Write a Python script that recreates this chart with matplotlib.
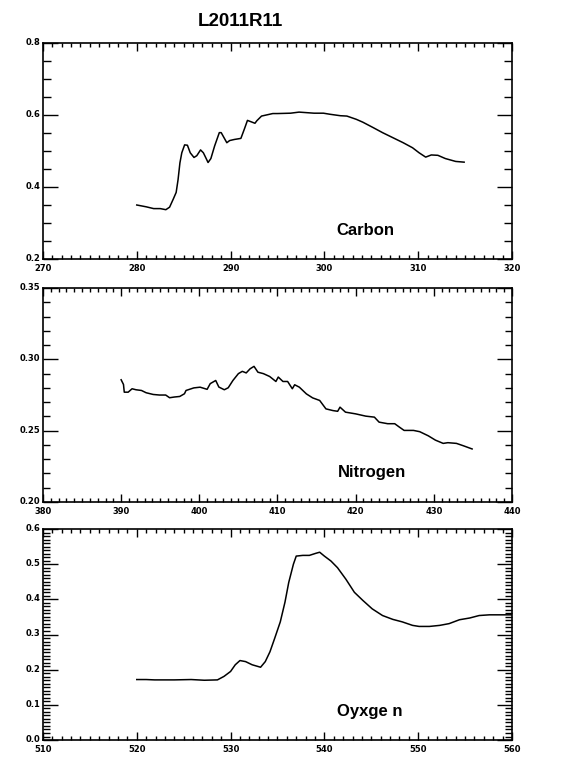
import matplotlib
matplotlib.use("Agg")
import matplotlib.pyplot as plt
import matplotlib.transforms as mtransforms
from matplotlib.ticker import MultipleLocator, FormatStrFormatter

plt.rcParams['font.family'] = ['Liberation Sans', 'DejaVu Sans']

# Carbon K-edge
carbon_x = [280.0, 281.0, 281.8, 282.5, 283.1, 283.5, 283.9, 284.2, 284.4, 284.6, 284.8, 285.1,
            285.4, 285.7, 286.1, 286.4, 286.8, 287.1, 287.4, 287.6, 287.9, 288.3, 288.8, 289.0,
            289.6, 289.9, 290.4, 291.1, 291.5, 291.8, 292.1, 292.6, 292.8, 293.3, 294.5, 295.0,
            296.4, 297.3, 298.9, 299.9, 300.6, 301.7, 302.4, 303.4, 304.1, 305.2, 306.2, 307.3,
            308.4, 309.4, 310.1, 310.8, 311.4, 312.1, 312.9, 314.0, 314.9]
carbon_y = [0.350, 0.345, 0.340, 0.340, 0.337, 0.344, 0.367, 0.385, 0.420, 0.467, 0.495, 0.517,
            0.516, 0.495, 0.482, 0.487, 0.503, 0.495, 0.479, 0.468, 0.479, 0.514, 0.551, 0.551,
            0.523, 0.529, 0.532, 0.535, 0.563, 0.585, 0.582, 0.577, 0.584, 0.597, 0.604, 0.604,
            0.605, 0.608, 0.605, 0.605, 0.602, 0.598, 0.597, 0.588, 0.580, 0.565, 0.551, 0.537,
            0.523, 0.509, 0.495, 0.483, 0.489, 0.488, 0.479, 0.471, 0.469]

# Nitrogen K-edge
nitrogen_x = [390.0, 390.3, 390.4, 390.9, 391.4, 391.9, 392.6, 393.2, 394.1, 394.9, 395.7, 396.2,
              396.8, 397.5, 398.1, 398.3, 399.3, 400.1, 401.0, 401.4, 402.1, 402.5, 403.2, 403.7,
              404.3, 405.0, 405.5, 406.0, 406.5, 407.0, 407.5, 408.2, 409.0, 409.8, 410.1, 410.7,
              411.3, 411.9, 412.2, 412.8, 413.7, 414.5, 415.4, 416.2, 417.1, 417.7, 418.0, 418.7,
              420.0, 421.3, 422.4, 423.0, 424.1, 425.0, 425.6, 426.2, 427.4, 428.2, 429.3, 430.2,
              431.2, 431.8, 432.9, 433.8, 434.9]
nitrogen_y = [0.2857, 0.2824, 0.2770, 0.2770, 0.2794, 0.2787, 0.2782, 0.2766, 0.2754, 0.2750,
              0.2750, 0.2731, 0.2736, 0.2740, 0.2759, 0.2782, 0.2800, 0.2805, 0.2790, 0.2830,
              0.2852, 0.2806, 0.2787, 0.2801, 0.2852, 0.2900, 0.2916, 0.2905, 0.2934, 0.2951,
              0.2910, 0.2900, 0.2880, 0.2845, 0.2876, 0.2845, 0.2845, 0.2794, 0.2822, 0.2805,
              0.2758, 0.2730, 0.2712, 0.2653, 0.2641, 0.2636, 0.2665, 0.2630, 0.2618, 0.2602,
              0.2595, 0.2560, 0.2549, 0.2549, 0.2525, 0.2502, 0.2502, 0.2493, 0.2464, 0.2434,
              0.2411, 0.2416, 0.2411, 0.2394, 0.2372]

# Oxygen K-edge
oxygen_x = [520.0, 521.0, 521.9, 524.0, 525.8, 527.2, 528.6, 529.3, 530.0, 530.5, 531.0, 531.6,
            532.3, 533.2, 533.7, 534.2, 534.7, 535.3, 535.8, 536.2, 536.7, 537.0, 537.7, 538.4,
            539.1, 539.5, 540.0, 540.7, 541.4, 542.3, 543.2, 544.1, 545.1, 546.2, 547.3, 548.3,
            549.4, 550.1, 551.2, 552.3, 553.3, 554.4, 555.5, 556.5, 557.6, 558.7, 560.0]
oxygen_y = [0.172, 0.172, 0.171, 0.171, 0.172, 0.170, 0.171, 0.181, 0.195, 0.214, 0.226, 0.223,
            0.214, 0.207, 0.223, 0.251, 0.289, 0.336, 0.392, 0.448, 0.500, 0.523, 0.525, 0.525,
            0.531, 0.534, 0.523, 0.509, 0.490, 0.457, 0.420, 0.397, 0.373, 0.354, 0.343, 0.336,
            0.326, 0.323, 0.323, 0.326, 0.331, 0.342, 0.347, 0.354, 0.356, 0.356, 0.356]

panels = [
    dict(x=carbon_x, y=carbon_y, xlim=(270, 320), ylim=(0.2, 0.8), ymaj=0.2, ymin=0.05,
         yfmt='%.1f', label='Carbon', lx=301.3, ly=0.278, rect=[0.0766, 0.6583, 0.836, 0.285]),
    dict(x=nitrogen_x, y=nitrogen_y, xlim=(380, 440), ylim=(0.20, 0.35), ymaj=0.05, ymin=0.01,
         yfmt='%.2f', label='Nitrogen', lx=417.7, ly=0.221, rect=[0.0766, 0.3377, 0.836, 0.2823]),
    dict(x=oxygen_x, y=oxygen_y, xlim=(510, 560), ylim=(0.0, 0.6), ymaj=0.1, ymin=0.01,
         yfmt='%.1f', label='Oyxge n', lx=541.3, ly=0.08, rect=[0.0766, 0.0237, 0.836, 0.2784]),
]

fig = plt.figure(figsize=(5.61, 7.58), dpi=100)
fig.text(0.428, 0.971, 'L2011R11', ha='center', va='center', fontsize=13.5, fontweight='bold')

# nudge y tick labels up slightly so they clear the x tick labels at the corner
shift_up = mtransforms.ScaledTranslation(0, 1.2 / 72, fig.dpi_scale_trans)

for p in panels:
    ax = fig.add_axes(p['rect'])
    ax.plot(p['x'], p['y'], color='black', linewidth=1.1)
    ax.set_xlim(*p['xlim'])
    ax.set_ylim(*p['ylim'])
    ax.xaxis.set_major_locator(MultipleLocator(10))
    ax.xaxis.set_minor_locator(MultipleLocator(1))
    ax.yaxis.set_major_locator(MultipleLocator(p['ymaj']))
    ax.yaxis.set_minor_locator(MultipleLocator(p['ymin']))
    ax.yaxis.set_major_formatter(FormatStrFormatter(p['yfmt']))
    ax.tick_params(which='both', direction='in', top=True, right=True,
                   labelsize=6, width=1)
    ax.tick_params(axis='x', which='major', length=6, pad=3.5)
    ax.tick_params(axis='x', which='minor', length=3)
    ax.tick_params(axis='y', which='major', length=11, pad=2)
    ax.tick_params(axis='y', which='minor', length=5 if p['ymin'] == 0.01 else 6)
    for lab in ax.get_xticklabels() + ax.get_yticklabels():
        lab.set_fontweight('bold')
        lab.set_family(['DejaVu Sans'])
    for lab in ax.get_yticklabels():
        lab.set_transform(lab.get_transform() + shift_up)
    for s in ax.spines.values():
        s.set_linewidth(1.2)
    ax.text(p['lx'], p['ly'], p['label'], fontsize=12, fontweight='bold', va='center')

fig.savefig('out.png', dpi=100)
